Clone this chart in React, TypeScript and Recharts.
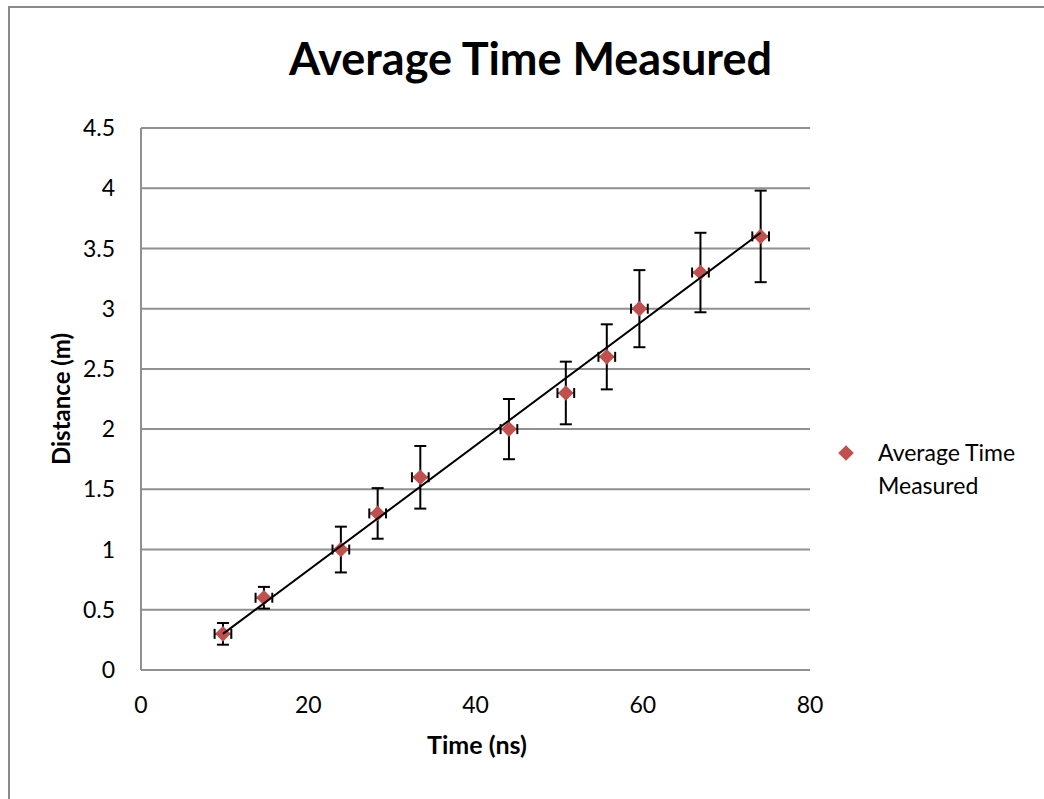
import { CartesianGrid, ErrorBar, Scatter, ScatterChart, XAxis, YAxis } from 'recharts';

// measured points: time of flight (ns) vs distance (m)
const times = [9.8, 14.7, 23.9, 28.3, 33.4, 44.0, 50.8, 55.7, 59.6, 66.9, 74.1];
const distances = [0.3, 0.6, 1.0, 1.3, 1.6, 2.0, 2.3, 2.6, 3.0, 3.3, 3.6];
const distanceErrors = [0.09, 0.09, 0.19, 0.21, 0.26, 0.25, 0.26, 0.27, 0.32, 0.33, 0.38];
const timeErrors = [1, 1, 1, 1, 1, 1, 1, 1, 1, 1, 1];

// linear trendline end points
const trendTimes = [9.8, 74.1];
const trendDistances = [0.3, 3.63];

const xTicks = [0, 20, 40, 60, 80];
const yTicks = [0, 0.5, 1, 1.5, 2, 2.5, 3, 3.5, 4, 4.5];

const points = times.map((t, i) => ({
	time: t,
	distance: distances[i],
	timeErr: timeErrors[i],
	distErr: distanceErrors[i],
}));
const trend = trendTimes.map((t, i) => ({ time: t, distance: trendDistances[i] }));

const FONT = 'Lato, "Open Sans", sans-serif';
const RED = '#c0504d';
const GRID = '#909090';

const Diamond = (props: any) => {
	const { cx, cy } = props;
	const r = 7.8;
	return <polygon points={`${cx},${cy - r} ${cx + r},${cy} ${cx},${cy + r} ${cx - r},${cy}`} fill={RED} />;
};

const NoDot = () => <g />;

export default function App() {
	return (
		<div
			style={{
				position: 'absolute',
				left: 8,
				top: 6,
				width: 1036,
				height: 793,
				boxSizing: 'border-box',
				borderTop: '2px solid #8a8a8a',
				borderLeft: '2px solid #8a8a8a',
				overflow: 'hidden',
				background: '#fff',
				fontFamily: FONT,
			}}
		>
			<div
				style={{
					position: 'absolute',
					left: 20.5,
					width: 1000,
					top: 28,
					textAlign: 'center',
					fontSize: 45,
					lineHeight: '45px',
					fontWeight: 700,
					color: '#000',
				}}
			>
				Average Time Measured
			</div>

			<ScatterChart width={1034} height={791} margin={{ top: 120, right: 234, bottom: 69, left: 0 }}>
				<CartesianGrid horizontal vertical={false} stroke={GRID} strokeWidth={2} />
				<XAxis
					type="number"
					dataKey="time"
					domain={[0, 80]}
					ticks={xTicks}
					height={60}
					axisLine={{ stroke: GRID, strokeWidth: 2 }}
					tickLine={false}
					tickSize={0}
					tickMargin={27}
					tick={{ fill: '#000', fontSize: 23, fontFamily: FONT }}
				/>
				<YAxis
					type="number"
					dataKey="distance"
					domain={[0, 4.5]}
					ticks={yTicks}
					width={131}
					axisLine={{ stroke: GRID, strokeWidth: 2 }}
					tickLine={false}
					tickSize={0}
					tickMargin={26}
					tick={{ fill: '#000', fontSize: 23, fontFamily: FONT }}
				/>
				<Scatter data={points} shape={Diamond} isAnimationActive={false}>
					<ErrorBar dataKey="distErr" direction="y" width={6} stroke="#000" strokeWidth={2} isAnimationActive={false} />
					<ErrorBar dataKey="timeErr" direction="x" width={5} stroke="#000" strokeWidth={2} isAnimationActive={false} />
				</Scatter>
				<Scatter
					data={trend}
					line={{ stroke: '#000', strokeWidth: 2 }}
					shape={NoDot}
					legendType="none"
					isAnimationActive={false}
				/>
			</ScatterChart>

			<div
				style={{
					position: 'absolute',
					left: 367,
					width: 200,
					top: 724,
					textAlign: 'center',
					fontSize: 25,
					lineHeight: '25px',
					fontWeight: 700,
				}}
			>
				Time (ns)
			</div>
			<div
				style={{
					position: 'absolute',
					left: 51 - 100,
					width: 200,
					top: 391 - 13,
					height: 26,
					textAlign: 'center',
					fontSize: 24,
					lineHeight: '26px',
					fontWeight: 700,
					transform: 'rotate(-90deg)',
					transformOrigin: '50% 50%',
				}}
			>
				Distance (m)
			</div>

			<svg style={{ position: 'absolute', left: 828, top: 437 }} width={16} height={16}>
				<Diamond cx={8} cy={8} />
			</svg>
			<div
				style={{
					position: 'absolute',
					left: 868,
					top: 428,
					fontSize: 23,
					lineHeight: '33px',
					color: '#000',
				}}
			>
				Average Time
				<br />
				Measured
			</div>
		</div>
	);
}
